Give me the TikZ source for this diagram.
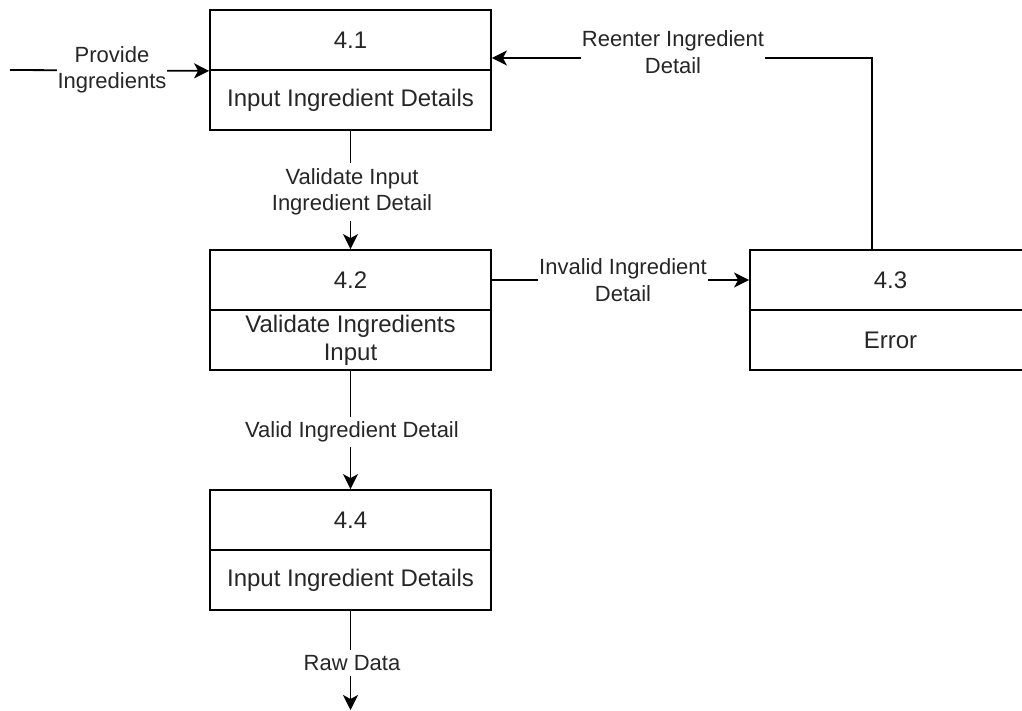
\documentclass[tikz,border=0pt]{standalone}
\usepackage{fontspec}
\setmainfont{Liberation Sans}
\usetikzlibrary{arrows.meta}
\begin{document}
\begin{tikzpicture}[x=1pt,y=-1pt,
  half/.style={draw=black, line width=1.8pt, minimum width=281pt, minimum height=60pt,
    inner sep=0pt, font=\fontsize{24}{28}\selectfont, text=black!85, align=center},
  flow/.style={draw=black, line width=1.8pt, -{Stealth[length=15pt,width=15pt,inset=4pt]}},
  lbl/.style={fill=white, inner xsep=1pt, inner ysep=5pt,
    font=\fontsize{22}{26.5}\selectfont, text=black!85, align=center}]
\useasboundingbox (0,0) rectangle (1022,711);

% process boxes: number on top, name below
\node[half] (p41)  at (350.5,40)  {4.1};
\node[half] (p41n) at (350.5,100) {Input Ingredient Details};
\node[half] (p42)  at (350.5,280) {4.2};
\node[half] (p42n) at (350.5,340) {Validate Ingredients\\Input};
\node[half] (p44)  at (350.5,520) {4.4};
\node[half] (p44n) at (350.5,580) {Input Ingredient Details};
\node[half] (p43)  at (890.5,280) {4.3};
\node[half] (p43n) at (890.5,340) {Error};

% free ends of the outside flows
\coordinate (src)  at (10,70);
\coordinate (sink) at (350.5,710);

% data flows
\draw[flow] (src) -- (p41.south west);
\draw[flow] (p41n.south) -- (p42.north);
\draw[flow] (p42.east) -- (p43.west);
\draw[flow] ([xshift=-18.5pt]p43.north) |- ([yshift=-18pt]p41.east);
\draw[flow] (p42n.south) -- (p44.north);
\draw[flow] (p44n.south) -- (sink);

% flow labels
\node[lbl] (lprov)  at (112,70)  {Provide\\Ingredients};
\node[lbl] (lreent) at (673,52)  {Reenter Ingredient\\Detail};
\node[lbl] (linval) at (623,280) {Invalid Ingredient\\Detail};
\node[lbl] (lvalin) at (352,192) {Validate Input\\Ingredient Detail};
\node[lbl] (lvalid) at (352,432) {Valid Ingredient Detail};
\node[lbl] (lraw)   at (352,663) {Raw Data};
\end{tikzpicture}
\end{document}
